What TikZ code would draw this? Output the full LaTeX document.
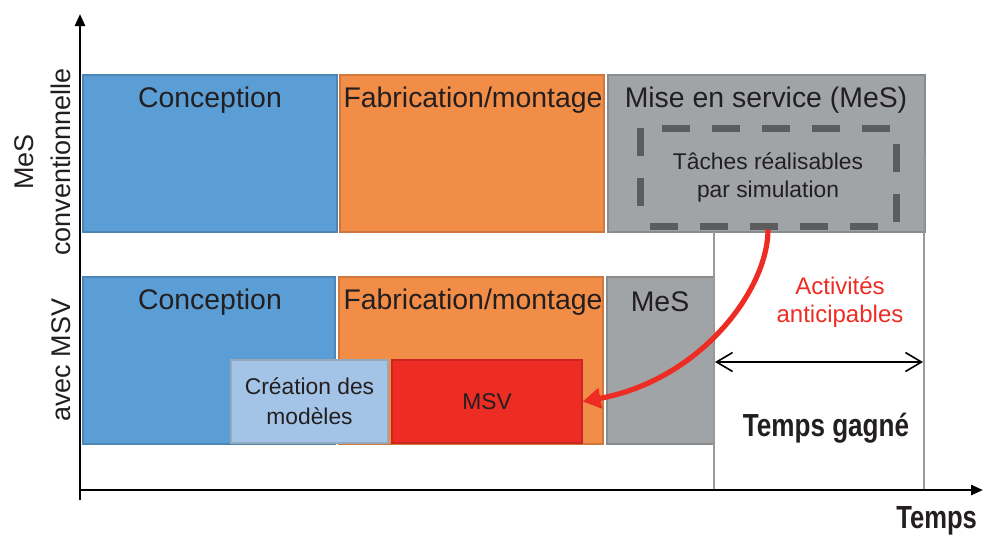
\documentclass[tikz,border=0pt]{standalone}
\usepackage{fontspec}
\setmainfont{Liberation Sans}
\usetikzlibrary{arrows.meta}

\definecolor{cblue}{RGB}{91,157,213}
\definecolor{corange}{RGB}{242,141,72}
\definecolor{cgray}{RGB}{161,164,166}
\definecolor{clight}{RGB}{163,196,230}
\definecolor{cred}{RGB}{237,45,36}
\definecolor{cdash}{RGB}{90,92,94}
\definecolor{ctext}{RGB}{35,31,32}

\tikzset{
  phase/.style={draw=#1!85!black, fill=#1, line width=0.6pt},
  title/.style={text=ctext, font=\fontsize{14.2}{17}\selectfont},
  small/.style={text=ctext, font=\fontsize{11.4}{14}\selectfont, align=center},
}

\begin{document}
\begin{tikzpicture}[x=0.5pt,y=-0.5pt]
  \useasboundingbox (0,0) rectangle (984,538);

  % conventional commissioning
  \draw[phase=cblue] (83,75) rectangle (337,232);
  \draw[phase=corange] (340,75) rectangle (604,232);
  \draw[phase=cgray] (608,75) rectangle (925,232);
  \node[title] (concA) at (210,100) {Conception};
  \node[title] (fabA) at (473,100) {Fabrication/montage};
  \node[title] (mesA) at (766,100) {Mise en service (MeS)};
  \node[small, draw=cdash, line width=3.5pt, dash pattern=on 14pt off 11pt, dash phase=20pt,
        minimum width=128pt, minimum height=49pt] (taches) at (768,177)
        {T\^aches r\'ealisables\\par simulation};

  % with virtual commissioning
  \draw[phase=cblue] (83,277) rectangle (335,444);
  \draw[phase=corange] (339,277) rectangle (603,444);
  \draw[phase=cgray] (607,277) rectangle (714,444);
  \node[title] (concB) at (210,302) {Conception};
  \node[title] (fabB) at (473,302) {Fabrication/montage};
  \node[title] (mesB) at (660,302) {MeS};
  \node[small, phase=clight, draw=clight!60!gray, font=\fontsize{11.4}{15}\selectfont,
        minimum width=78.5pt, minimum height=41.5pt] (modeles) at (309.5,401.5)
        {Cr\'eation des\\mod\`eles};
  \node[small, phase=cred, minimum width=95pt, minimum height=41.5pt] (msv) at (487,401.5) {MSV};

  % time saved
  \draw[gray!80, line width=1pt] (714,232) -- (714,490);
  \draw[gray!80, line width=1pt] (924,155) -- (924,490);
  \coordinate (gainL) at (715,362);
  \coordinate (gainR) at (923,362);
  \draw[line width=0.8pt, {Straight Barb[length=8pt,width=9.5pt]}-{Straight Barb[length=8pt,width=9.5pt]}] (gainL) -- (gainR);
  \node[small, text=cred, font=\fontsize{12}{14}\selectfont] (anticip) at (840,302) {Activit\'es\\anticipables};
  \node[text=ctext, font=\bfseries\fontsize{14.5}{17}\selectfont] (gagne) at (826,428) {\scalebox{0.9}[1.1]{Temps gagn\'e}};
  \draw[cred, line width=2.6pt, -{Triangle[length=9pt,width=10pt]}]
    (taches.south) .. controls (768,290) and (700,380) .. (msv.east);

  % axes
  \coordinate (origin) at (80,490);
  \draw[line width=1.2pt, -{Triangle[length=6pt,width=5pt]}] (origin |- 0,500) -- (80,14);
  \draw[line width=1.2pt, -{Triangle[length=6pt,width=5pt]}] (origin) -- (983,490);
  \node[text=ctext, font=\bfseries\fontsize{16}{18}\selectfont, anchor=east] (temps) at (984,521) {\scalebox{0.8}[1]{Temps}};
  \node[text=ctext, rotate=90, align=center, font=\fontsize{13.5}{18.5}\selectfont] (conv) at (43,162) {MeS\\conventionnelle};
  \node[text=ctext, rotate=90, font=\fontsize{13.5}{18.5}\selectfont] (avec) at (61,360) {avec MSV};
\end{tikzpicture}
\end{document}
